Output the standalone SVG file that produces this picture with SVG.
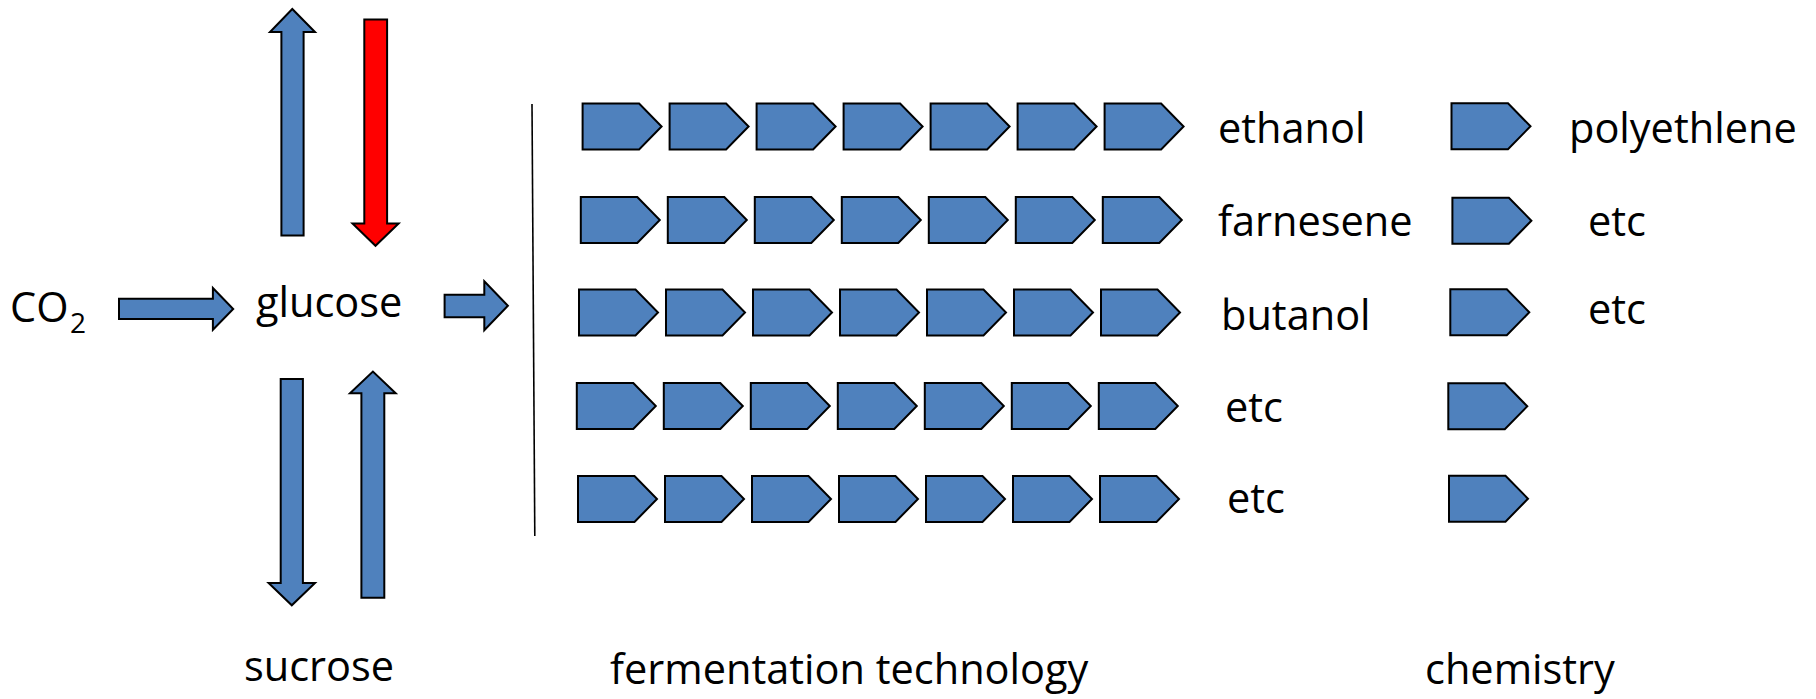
<svg xmlns="http://www.w3.org/2000/svg" xmlns:xlink="http://www.w3.org/1999/xlink" width="1816" height="699" viewBox="0 0 1816 699">
  <style>
    text { font-family: "Open Sans", "Liberation Sans", sans-serif; font-size: 41.5px; fill: #000; }
    .blue { fill: #4F81BD; stroke: #000; stroke-width: 2; stroke-linejoin: miter; }
    .red { fill: #FF0000; stroke: #000; stroke-width: 2; }
    .line { stroke: #000; stroke-width: 1.6; fill: none; }
  </style>
  <defs>
    <path id="chev" class="blue" d="M0,0 H56.5 L79,23 L56.5,46 H0 Z"/>
  </defs>
  <rect width="1816" height="699" fill="#fff"/>

  <g id="connectors">
    <!-- up arrow top-left -->
    <path class="blue" d="M281.4,235.6 V32 H270 L292.3,9 L315,32 H303.6 V235.6 Z"/>
    <!-- red down arrow -->
    <path class="red" d="M364.3,19.5 H387.1 V223.5 H398.6 L375.5,245.8 L352.5,223.5 H364.3 Z"/>
    <!-- CO2 -> glucose -->
    <path class="blue" d="M119,298.7 H212.9 V288 L233.2,309 L212.9,329.8 V319 H119 Z"/>
    <!-- glucose -> -->
    <path class="blue" d="M444.6,294.7 H484.3 V281.3 L507.9,305.8 L484.3,330.2 V317.3 H444.6 Z"/>
    <!-- down arrow bottom-left -->
    <path class="blue" d="M280.7,379 H302.9 V583 H315 L291.8,605.3 L268.6,583 H280.7 Z"/>
    <!-- up arrow bottom-right -->
    <path class="blue" d="M361.4,597.8 V393.3 H350 L372.9,371.6 L395.7,393.3 H384.3 V597.8 Z"/>
    <!-- vertical divider -->
    <line class="line" x1="532" y1="104" x2="534.8" y2="536"/>
  </g>

  <g id="co2"><text x="10" y="322">CO<tspan x="70" y="333" font-size="28">2</tspan></text></g>
  <g id="glucose"><text x="256" y="317">glucose</text></g>
  <g id="sucrose"><text x="244" y="681">sucrose</text></g>

  <g id="fermentation-row1">
    <use xlink:href="#chev" x="582.6" y="103.5"/><use xlink:href="#chev" x="669.6" y="103.5"/><use xlink:href="#chev" x="756.6" y="103.5"/><use xlink:href="#chev" x="843.6" y="103.5"/><use xlink:href="#chev" x="930.6" y="103.5"/><use xlink:href="#chev" x="1017.6" y="103.5"/><use xlink:href="#chev" x="1104.6" y="103.5"/>
  </g>
  <g id="fermentation-row2">
    <use xlink:href="#chev" x="580.8" y="197"/><use xlink:href="#chev" x="667.8" y="197"/><use xlink:href="#chev" x="754.8" y="197"/><use xlink:href="#chev" x="841.8" y="197"/><use xlink:href="#chev" x="928.8" y="197"/><use xlink:href="#chev" x="1015.8" y="197"/><use xlink:href="#chev" x="1102.8" y="197"/>
  </g>
  <g id="fermentation-row3">
    <use xlink:href="#chev" x="579" y="289.5"/><use xlink:href="#chev" x="666" y="289.5"/><use xlink:href="#chev" x="753" y="289.5"/><use xlink:href="#chev" x="840" y="289.5"/><use xlink:href="#chev" x="927" y="289.5"/><use xlink:href="#chev" x="1014" y="289.5"/><use xlink:href="#chev" x="1101" y="289.5"/>
  </g>
  <g id="fermentation-row4">
    <use xlink:href="#chev" x="576.8" y="383"/><use xlink:href="#chev" x="663.8" y="383"/><use xlink:href="#chev" x="750.8" y="383"/><use xlink:href="#chev" x="837.8" y="383"/><use xlink:href="#chev" x="924.8" y="383"/><use xlink:href="#chev" x="1011.8" y="383"/><use xlink:href="#chev" x="1098.8" y="383"/>
  </g>
  <g id="fermentation-row5">
    <use xlink:href="#chev" x="578" y="476"/><use xlink:href="#chev" x="665" y="476"/><use xlink:href="#chev" x="752" y="476"/><use xlink:href="#chev" x="839" y="476"/><use xlink:href="#chev" x="926" y="476"/><use xlink:href="#chev" x="1013" y="476"/><use xlink:href="#chev" x="1100" y="476"/>
  </g>

  <g id="ethanol"><text x="1218" y="143">ethanol</text></g>
  <g id="farnesene"><text x="1218" y="236">farnesene</text></g>
  <g id="butanol"><text x="1221" y="330">butanol</text></g>
  <g id="etc-1"><text x="1225" y="422">etc</text></g>
  <g id="etc-2"><text x="1227" y="513">etc</text></g>

  <g id="chemistry-steps">
    <use xlink:href="#chev" x="1451.5" y="103.3"/>
    <use xlink:href="#chev" x="1452.4" y="197.7"/>
    <use xlink:href="#chev" x="1450.3" y="289.3"/>
    <use xlink:href="#chev" x="1448.3" y="383.3"/>
    <use xlink:href="#chev" x="1449" y="475.7"/>
  </g>

  <g id="polyethlene"><text x="1569" y="143">polyethlene</text></g>
  <g id="etc-3"><text x="1588" y="236">etc</text></g>
  <g id="etc-4"><text x="1588" y="324">etc</text></g>

  <g id="fermentation-technology"><text x="610" y="684">fermentation technology</text></g>
  <g id="chemistry"><text x="1425" y="684">chemistry</text></g>
</svg>
